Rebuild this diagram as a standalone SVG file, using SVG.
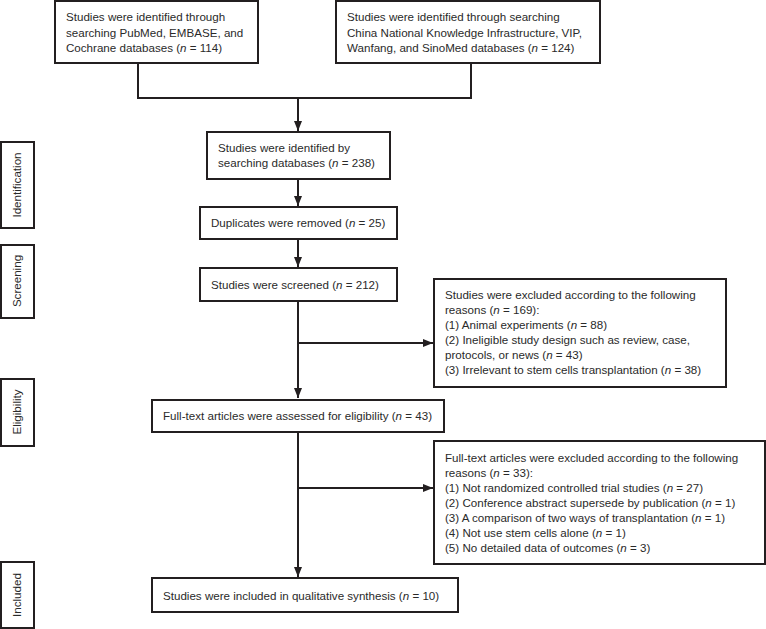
<svg xmlns="http://www.w3.org/2000/svg" width="766" height="629" viewBox="0 0 766 629">
<defs>
<style>
.box{fill:#fff;stroke:#231f20;stroke-width:2}
.t{font-family:"Liberation Sans",Arial,sans-serif;font-size:11.6px;fill:#2a2a2a}
.c{fill:none;stroke:#231f20;stroke-width:2}
</style>
<marker id="ah" markerWidth="10" markerHeight="8" refX="10" refY="4" orient="auto" markerUnits="userSpaceOnUse">
<path d="M0,0 L10,4 L0,8 Z" fill="#231f20"/>
</marker>
</defs>
<rect width="766" height="629" fill="#fff"/>
<g id="stage-identification"><rect class="box" x="1" y="142" width="33" height="86"/><text class="t" transform="translate(21,185) rotate(-90)" text-anchor="middle">Identification</text></g>
<g id="stage-screening"><rect class="box" x="1" y="245" width="33" height="73"/><text class="t" transform="translate(21,281) rotate(-90)" text-anchor="middle">Screening</text></g>
<g id="stage-eligibility"><rect class="box" x="1" y="379" width="33" height="67"/><text class="t" transform="translate(21,412) rotate(-90)" text-anchor="middle">Eligibility</text></g>
<g id="stage-included"><rect class="box" x="1" y="562" width="33" height="66"/><text class="t" transform="translate(21,595) rotate(-90)" text-anchor="middle">Included</text></g>

<g id="connectors">
<polyline class="c" points="138,63 138,98 471,98 471,63"/>
<line class="c" x1="298" y1="98" x2="298" y2="131" marker-end="url(#ah)"/>
<line class="c" x1="298" y1="179" x2="298" y2="206" marker-end="url(#ah)"/>
<line class="c" x1="298" y1="239" x2="298" y2="267" marker-end="url(#ah)"/>
<line class="c" x1="298" y1="301" x2="298" y2="398" marker-end="url(#ah)"/>
<line class="c" x1="298" y1="343" x2="433" y2="343" marker-end="url(#ah)"/>
<line class="c" x1="298" y1="432" x2="298" y2="577" marker-end="url(#ah)"/>
<line class="c" x1="298" y1="488" x2="433" y2="488" marker-end="url(#ah)"/>
</g>

<g id="n-pubmed"><rect class="box" x="55" y="1" width="203" height="62"/>
<text class="t" x="66" y="21">Studies were identified through</text>
<text class="t" x="66" y="37">searching PubMed, EMBASE, and</text>
<text class="t" x="66" y="52">Cochrane databases (<tspan font-style="italic">n</tspan> = 114)</text></g>
<g id="n-cnki"><rect class="box" x="336" y="1" width="264" height="62"/>
<text class="t" x="347" y="21">Studies were identified through searching</text>
<text class="t" x="347" y="37">China National Knowledge Infrastructure, VIP,</text>
<text class="t" x="347" y="52">Wanfang, and SinoMed databases (<tspan font-style="italic">n</tspan> = 124)</text></g>
<g id="n-identified"><rect class="box" x="207" y="132" width="183" height="47"/>
<text class="t" x="218" y="152">Studies were identified by</text>
<text class="t" x="218" y="167">searching databases (<tspan font-style="italic">n</tspan> = 238)</text></g>
<g id="n-duplicates"><rect class="box" x="200" y="207" width="197" height="32"/>
<text class="t" x="211" y="227">Duplicates were removed (<tspan font-style="italic">n</tspan> = 25)</text></g>
<g id="n-screened"><rect class="box" x="200" y="268" width="197" height="33"/>
<text class="t" x="211" y="289">Studies were screened (<tspan font-style="italic">n</tspan> = 212)</text></g>
<g id="n-excluded1"><rect class="box" x="434" y="279" width="292" height="108"/>
<text class="t" x="445" y="299">Studies were excluded according to the following</text>
<text class="t" x="445" y="314">reasons (<tspan font-style="italic">n</tspan> = 169):</text>
<text class="t" x="445" y="329">(1) Animal experiments (<tspan font-style="italic">n</tspan> = 88)</text>
<text class="t" x="445" y="344">(2) Ineligible study design such as review, case,</text>
<text class="t" x="445" y="359">protocols, or news (<tspan font-style="italic">n</tspan> = 43)</text>
<text class="t" x="445" y="374">(3) Irrelevant to stem cells transplantation (<tspan font-style="italic">n</tspan> = 38)</text></g>
<g id="n-eligibility"><rect class="box" x="152" y="400" width="292" height="32"/>
<text class="t" x="163" y="420">Full-text articles were assessed for eligibility (<tspan font-style="italic">n</tspan> = 43)</text></g>
<g id="n-excluded2"><rect class="box" x="434" y="441" width="331" height="123"/>
<text class="t" x="445" y="462">Full-text articles were excluded according to the following</text>
<text class="t" x="445" y="477">reasons (<tspan font-style="italic">n</tspan> = 33):</text>
<text class="t" x="445" y="492">(1) Not randomized controlled trial studies (<tspan font-style="italic">n</tspan> = 27)</text>
<text class="t" x="445" y="507">(2) Conference abstract supersede by publication (<tspan font-style="italic">n</tspan> = 1)</text>
<text class="t" x="445" y="522">(3) A comparison of two ways of transplantation (<tspan font-style="italic">n</tspan> = 1)</text>
<text class="t" x="445" y="537">(4) Not use stem cells alone (<tspan font-style="italic">n</tspan> = 1)</text>
<text class="t" x="445" y="552">(5) No detailed data of outcomes (<tspan font-style="italic">n</tspan> = 3)</text></g>
<g id="n-included"><rect class="box" x="152" y="578" width="306" height="34"/>
<text class="t" x="163" y="600">Studies were included in qualitative synthesis (<tspan font-style="italic">n</tspan> = 10)</text></g>
</svg>
